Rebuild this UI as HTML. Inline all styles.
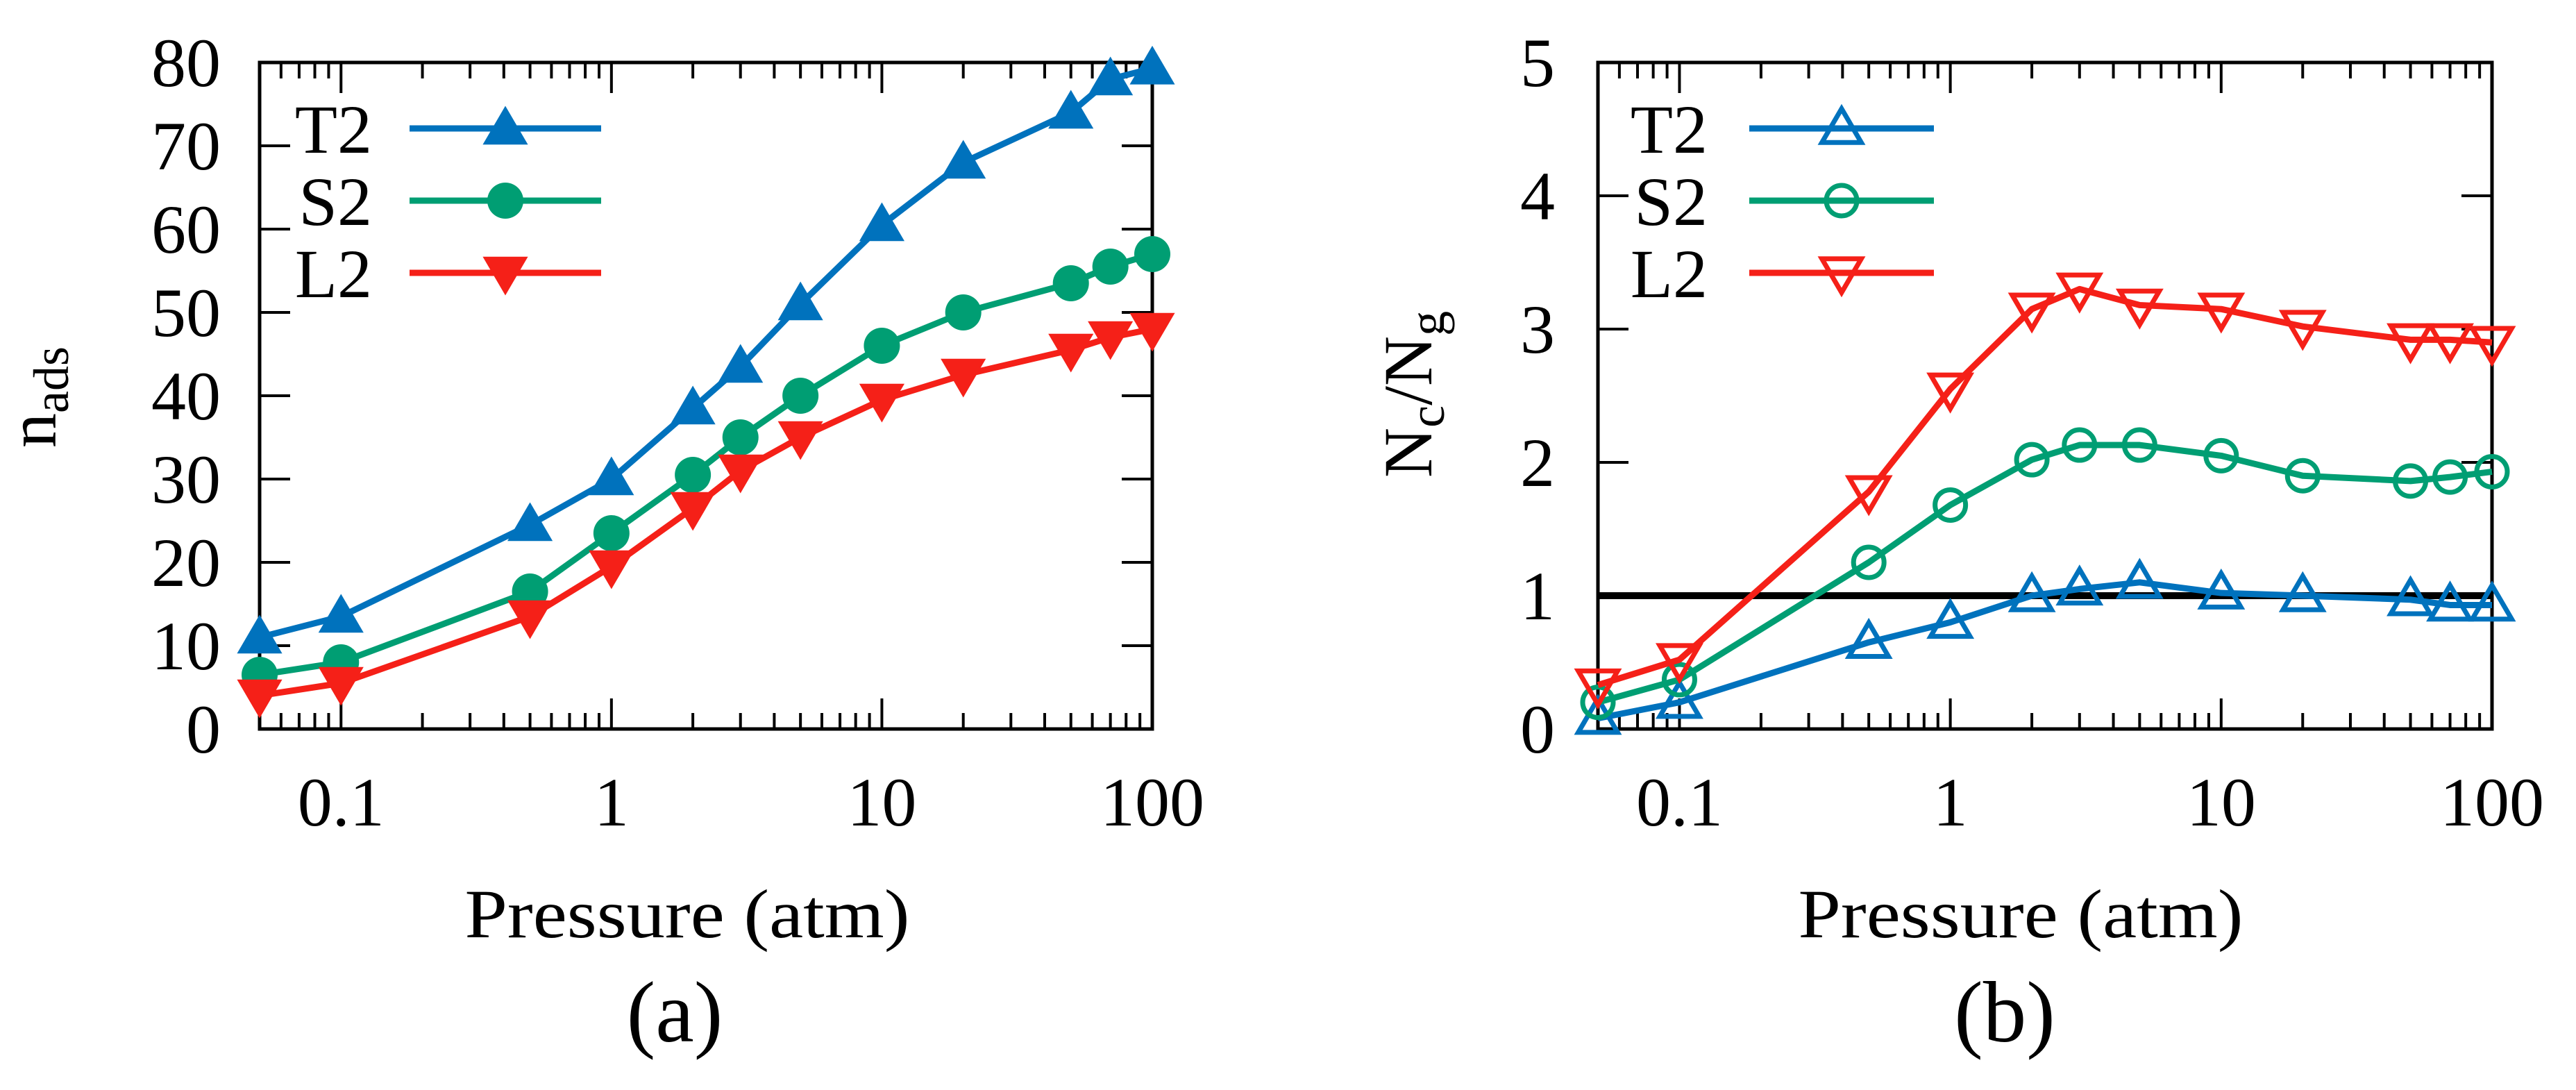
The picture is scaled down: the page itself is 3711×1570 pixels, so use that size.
<!DOCTYPE html>
<html><head><meta charset="utf-8"><style>
html,body{margin:0;padding:0;background:#fff;}
svg{display:block;}
text{font-family:"Liberation Serif",serif;fill:#000;}
</style></head>
<body>
<svg id="fig" width="3711" height="1570" viewBox="0 0 3711 1570" xmlns="http://www.w3.org/2000/svg"></svg>
<script>
const pressures = [0.05,0.1,0.5,1,2,3,5,10,20,50,70,100];
const seriesNames = ["T2","S2","L2"];
const nadsT2 = [11,13.5,24.5,30,38.5,43.5,51,60.5,68,74,78,79.3];
const nadsS2 = [6.5,8,16.5,23.5,30.5,35,40,46,50,53.5,55.5,57];
const nadsL2 = [4,5.5,13.5,19.5,26.5,31,35,39.5,42.5,45.5,47,48];
const ratioT2 = [0.08,0.2,0.65,0.8,1.0,1.05,1.1,1.02,1.0,0.97,0.93,0.93];
const ratioS2 = [0.2,0.37,1.25,1.68,2.02,2.13,2.13,2.05,1.9,1.86,1.89,1.93];
const ratioL2 = [0.33,0.52,1.78,2.55,3.15,3.3,3.18,3.15,3.02,2.92,2.92,2.9];
const xTickValues = [0.1,1,10,100];
const xTickLabels = ["0.1","1","10","100"];
const yTicksA = [0,10,20,30,40,50,60,70,80];
const yTicksB = [0,1,2,3,4,5];
const refLineValue = 1;

const NS="http://www.w3.org/2000/svg";
const svg=document.getElementById('fig');
function mk(tag,attrs,parent){const e=document.createElementNS(NS,tag);for(const k in attrs)e.setAttribute(k,attrs[k]);(parent||svg).appendChild(e);return e;}
const colors=["#0072bd","#009e73","#f52018"];

function panel(cfg){
  const g=mk('g',{});
  
  
  const L=cfg.left,R=cfg.right,T=90,B=1050;
  const lx0=Math.log10(0.05),lx1=Math.log10(100);
  const xs=v=>L+(Math.log10(v)-lx0)/(lx1-lx0)*(R-L);
  const ys=v=>B-(v-cfg.ymin)/(cfg.ymax-cfg.ymin)*(B-T);
  // minor & major x ticks
  const tg=mk('g',{stroke:'#000','stroke-width':4},g);
  
  
  for(let d=-2;d<=1;d++){for(let m=1;m<=9;m++){const v=m*Math.pow(10,d);if(v<0.05-1e-9||v>100+1e-9)continue;const x=xs(v);const len=(m===1)?44:23;
    mk('line',{x1:x,y1:B,x2:x,y2:B-len},tg);mk('line',{x1:x,y1:T,x2:x,y2:T+len},tg);}}
  const xt=xs(100);mk('line',{x1:xt,y1:B,x2:xt,y2:B-44},tg);
  cfg.yticks.forEach(v=>{const y=ys(v);mk('line',{x1:L,y1:y,x2:L+44,y2:y},tg);mk('line',{x1:R,y1:y,x2:R-44,y2:y},tg);
    const t=mk('text',{x:cfg.ylabX,y:y+34,'text-anchor':'end','font-size':100},g);t.textContent=String(v);
    });
  xTickValues.forEach((v,i)=>{const t=mk('text',{x:xs(v),y:1189,'text-anchor':'middle','font-size':100},g);t.textContent=xTickLabels[i];
    });
  const box=mk('rect',{x:L,y:T,width:R-L,height:B-T,fill:'none',stroke:'#000','stroke-width':5},g);
  
  if(cfg.refLine){const rl=mk('line',{x1:L,y1:ys(refLineValue),x2:R,y2:ys(refLineValue),stroke:'#000','stroke-width':10},g);
    }
  function marker(type,x,y,c,hollow,parent){
    const sw=hollow?7:0, fill=hollow?'none':c;
    if(type===0){const s=hollow?27:31;return mk('polygon',{points:`${x},${y-s*1.05} ${x+s*1.05},${y+s*0.75} ${x-s*1.05},${y+s*0.75}`,fill:fill,stroke:c,'stroke-width':sw,'stroke-linejoin':'miter'},parent);}
    if(type===1){return mk('circle',{cx:x,cy:y,r:hollow?22:26,fill:fill,stroke:c,'stroke-width':sw},parent);}
    const s=hollow?27:31;return mk('polygon',{points:`${x},${y+s*1.05} ${x+s*1.05},${y-s*0.75} ${x-s*1.05},${y-s*0.75}`,fill:fill,stroke:c,'stroke-width':sw},parent);
  }
  cfg.series.forEach((vals,si)=>{
    const sg=mk('g',{},g);
    
    
    const pts=pressures.map((p,i)=>xs(p)+','+ys(vals[i])).join(' ');
    mk('polyline',{points:pts,fill:'none',stroke:colors[si],'stroke-width':9,'stroke-linejoin':'round'},sg);
    pressures.forEach((p,i)=>{const m=marker(si,xs(p),ys(vals[i]),colors[si],cfg.hollow,sg);
      
      });
    // legend
    const ly=185+si*104;
    const lg=mk('g',{},g);
    
    
    const t=mk('text',{x:cfg.legTextX,y:ly+35,'text-anchor':'end','font-size':100},lg);t.textContent=seriesNames[si];
    mk('line',{x1:cfg.legLine[0],y1:ly,x2:cfg.legLine[1],y2:ly,stroke:colors[si],'stroke-width':9},lg);
    marker(si,(cfg.legLine[0]+cfg.legLine[1])/2,ly,colors[si],cfg.hollow,lg);
  });
  const xl=mk('text',{x:cfg.xlabX,y:1350,'text-anchor':'middle','font-size':100,textLength:641,lengthAdjust:'spacingAndGlyphs'},g);
  xl.textContent='Pressure (atm)';
  const pl=mk('text',{x:cfg.capX,y:1500,'text-anchor':'middle','font-size':125},g);
  pl.textContent=cfg.caption;
  return g;
}

panel({name:'panel-a',left:374,right:1660,ymin:0,ymax:80,yticks:yTicksA,ylabX:318,series:[nadsT2,nadsS2,nadsL2],hollow:false,
  legTextX:536,legLine:[590,866],xlabX:990,capX:972,caption:'(a)'});
panel({name:'panel-b',left:2302,right:3590,ymin:0,ymax:5,yticks:yTicksB,ylabX:2240,series:[ratioT2,ratioS2,ratioL2],hollow:true,
  legTextX:2460,legLine:[2520,2786],xlabX:2911,capX:2888,caption:'(b)',refLine:true});

// y-axis titles
const ya=mk('text',{x:0,y:0,'font-size':100,'text-anchor':'middle',transform:'translate(80,572) rotate(-90)'});
ya.innerHTML='n<tspan font-size="72" dy="18">ads</tspan>';


const yb=mk('text',{x:0,y:0,'font-size':100,'text-anchor':'middle',transform:'translate(2062,568) rotate(-90)'});
yb.innerHTML='N<tspan font-size="72" dy="18">c</tspan><tspan dy="-18">/N</tspan><tspan font-size="72" dy="18">g</tspan>';


</script>
</body></html>
